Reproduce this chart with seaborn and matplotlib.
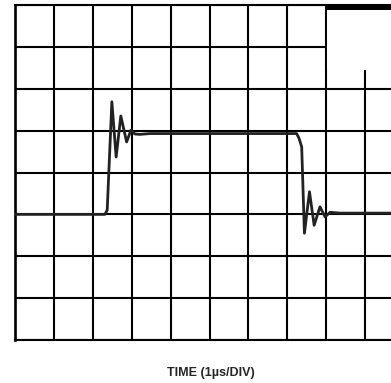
import matplotlib
matplotlib.use("Agg")
import matplotlib.pyplot as plt
import seaborn as sns
import pandas as pd
from matplotlib.patches import Rectangle

# Waveform (x in µs divisions, y in vertical divisions)
time_div = [0.0, 2.31, 2.37, 2.49, 2.60, 2.72, 2.87, 2.98, 3.08, 3.21, 3.47,
            7.24, 7.30, 7.37, 7.44, 7.57, 7.69, 7.84, 7.97, 8.10, 8.35, 10.0]
level_div = [3.0, 3.0, 3.1, 5.69, 4.37, 5.35, 4.73, 5.01, 4.92, 4.91, 4.93,
             4.93, 4.82, 4.61, 2.55, 3.54, 2.74, 3.18, 2.94, 3.05, 3.03, 3.03]
x_label = "TIME (1µs/DIV)"

sns.set_style("white")
plt.rcParams['font.family'] = ['Liberation Sans', 'DejaVu Sans']

fig = plt.figure(figsize=(3.91, 3.83), dpi=100)
ax = fig.add_axes([15/391, 43/383, 389/391, 335/383])

df = pd.DataFrame({"t": time_div, "v": level_div})
sns.lineplot(data=df, x="t", y="v", ax=ax, color="#222222", linewidth=2.0,
             sort=False, zorder=5)

ax.set_xlim(0, 10)
ax.set_ylim(0, 8)
ax.set_xticks(range(0, 11))
ax.set_yticks(range(0, 9))
ax.grid(True, color="black", linewidth=1.5)
ax.tick_params(length=0, labelbottom=False, labelleft=False)
ax.set_xlabel("")
ax.set_ylabel("")
for s in ax.spines.values():
    s.set_color("black")
    s.set_linewidth(1.5)
ax.spines["right"].set_visible(False)
ax.spines["left"].set_linewidth(1.9)

# blanked box in the top-right corner
ax.add_patch(Rectangle((8.03, 6.44), 2.5, 1.44, facecolor="white", edgecolor="none",
                       zorder=3, clip_on=False))
ax.add_patch(Rectangle((7.96, 7.876), 2.6, 0.15, facecolor="black", edgecolor="none",
                       zorder=4, clip_on=False))

fig.text(211/391, 1 - 373/383, x_label, ha="center", va="center",
         fontsize=9, fontweight="bold")

fig.savefig("out.png", dpi=100)
